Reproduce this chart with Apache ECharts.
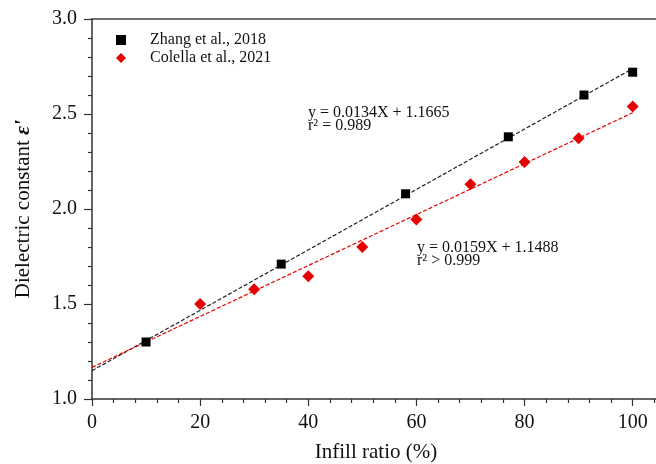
<!DOCTYPE html>
<html>
<head>
<meta charset="utf-8">
<script src="https://cdn.jsdelivr.net/npm/echarts@6/dist/echarts.min.js"></script>
<style>
  html, body { margin: 0; padding: 0; background: #fff; }
  #chart_1 { width: 656px; height: 464px; }
</style>
</head>
<body>
<div id="chart_1"></div>
<script>
var dom = document.getElementById("chart_1");
var myChart = echarts.init(dom);

// Zhang et al., 2018 (black squares)
var zhangX = [10, 35, 58, 77, 91, 100];
var zhangY = [1.30, 1.71, 2.08, 2.38, 2.60, 2.72];

// Colella et al., 2021 (red diamonds)
var colellaX = [20, 30, 40, 50, 60, 70, 80, 90, 100];
var colellaY = [1.50, 1.578, 1.646, 1.80, 1.945, 2.13, 2.247, 2.372, 2.54];

// fitted lines as drawn: [slope, intercept]
var fitBlack = [0.0159, 1.1488];
var fitRed = [0.0134, 1.1665];
var fitRange = [0, 100];

var seriesNames = ['Zhang et al., 2018', 'Colella et al., 2021'];
var eqText1 = 'y = 0.0134X + 1.1665\nr² = 0.989';
var eqText2 = 'y = 0.0159X + 1.1488\nr² > 0.999';

var serif = '"Liberation Serif", "Times New Roman", serif';
var red = '#e60000';

function pairs(xs, ys) {
    return xs.map(function (x, i) { return [x, ys[i]]; });
}
function fitLine(f) {
    return fitRange.map(function (x) { return [x, f[0] * x + f[1]]; });
}

option = {
    animation: false,
    backgroundColor: '#fff',
    textStyle: { fontFamily: serif },
    grid: {
        left: 92,
        top: 19,
        width: 648.8,
        height: 380,
        show: false,
        containLabel: false,
        outerBoundsMode: 'none'
    },
    legend: {
        left: 116,
        top: 32,
        padding: 0,
        orient: 'vertical',
        itemWidth: 10,
        itemHeight: 10,
        itemGap: 2,
        data: [
            { name: seriesNames[0], icon: 'rect' },
            { name: seriesNames[1], icon: 'diamond' }
        ],
        textStyle: { fontFamily: serif, fontSize: 16, color: '#111', lineHeight: 16, padding: [0, 0, 0, 19] }
    },
    xAxis: [{
        type: 'value',
        min: 0,
        max: 120,
        interval: 20,
        axisLine: { lineStyle: { color: '#333', width: 1.5 } },
        axisTick: { length: 7, lineStyle: { color: '#333', width: 1.2 } },
        minorTick: { show: true, splitNumber: 5, length: 4, lineStyle: { color: '#333', width: 1.2 } },
        axisLabel: { fontFamily: serif, fontSize: 20, color: '#111', margin: 14 },
        splitLine: { show: false }
    }, {
        type: 'value',
        position: 'top',
        min: 0,
        max: 120,
        axisLine: { show: true, lineStyle: { color: '#444', width: 1.5 } },
        axisTick: { show: false },
        axisLabel: { show: false },
        splitLine: { show: false }
    }],
    yAxis: {
        type: 'value',
        min: 1,
        max: 3,
        interval: 0.5,
        name: "Dielectric constant {e|ε'}",
        nameLocation: 'middle',
        nameRotate: 90,
        nameGap: 58,
        nameTextStyle: {
            fontFamily: serif, fontSize: 21, color: '#111',
            rich: { e: { fontFamily: serif, fontSize: 22, fontStyle: 'italic', fontWeight: 'bold', color: '#111' } }
        },
        axisLine: { show: true, lineStyle: { color: '#333', width: 1.5 } },
        axisTick: { show: true, length: 8, lineStyle: { color: '#333', width: 1.2 } },
        minorTick: { show: true, splitNumber: 5, length: 4, lineStyle: { color: '#333', width: 1.2 } },
        axisLabel: {
            fontFamily: serif, fontSize: 20, color: '#111', margin: 15,
            formatter: function (v) { return v.toFixed(1); }
        },
        splitLine: { show: false }
    },
    graphic: [
        {
            type: 'text', x: 376, y: 452,
            style: { text: 'Infill ratio (%)', font: '21px "Liberation Serif"', fill: '#111', align: 'center', verticalAlign: 'middle' }
        },
        {
            type: 'text', x: 308, y: 106,
            style: { text: eqText1, font: '16px "Liberation Serif"', fill: '#111', lineHeight: 13 }
        },
        {
            type: 'text', x: 417, y: 241,
            style: { text: eqText2, font: '16px "Liberation Serif"', fill: '#111', lineHeight: 13 }
        }
    ],
    series: [
        {
            name: 'fit1',
            type: 'line',
            data: fitLine(fitBlack),
            symbol: 'none',
            silent: true,
            lineStyle: { color: '#222', width: 1.2, type: [4, 2] },
            z: 1
        },
        {
            name: 'fit2',
            type: 'line',
            data: fitLine(fitRed),
            symbol: 'none',
            silent: true,
            lineStyle: { color: red, width: 1.2, type: [4, 2] },
            z: 1
        },
        {
            name: seriesNames[0],
            type: 'scatter',
            data: pairs(zhangX, zhangY),
            symbol: 'rect',
            symbolSize: 9,
            itemStyle: { color: '#000', opacity: 1 },
            z: 3
        },
        {
            name: seriesNames[1],
            type: 'scatter',
            data: pairs(colellaX, colellaY),
            symbol: 'diamond',
            symbolSize: 12,
            itemStyle: { color: red, opacity: 1 },
            z: 3
        }
    ]
};

if (option && typeof option === "object") {
    myChart.setOption(option, true);
}
</script>
</body>
</html>
